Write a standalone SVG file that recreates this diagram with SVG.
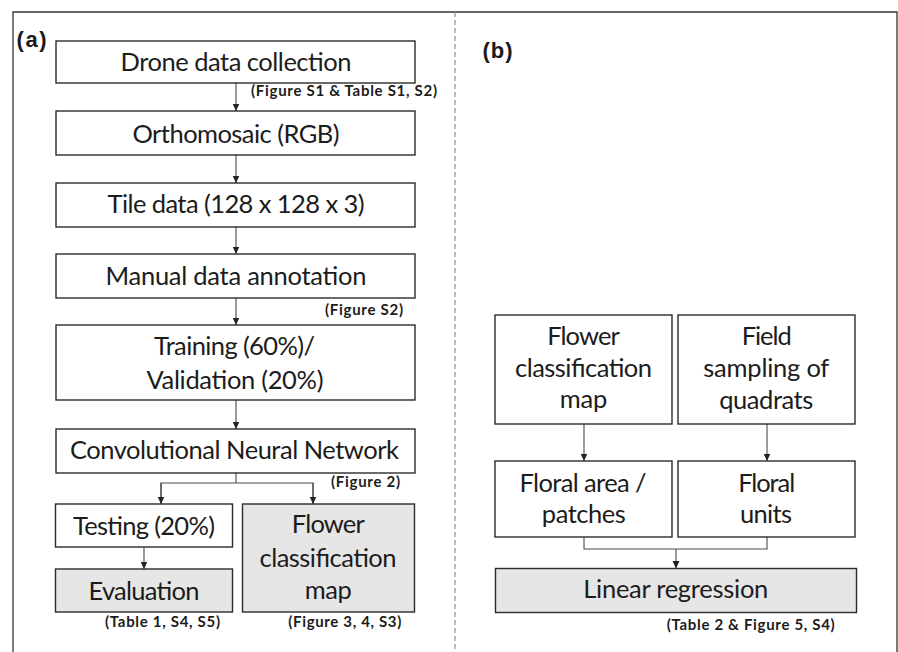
<svg xmlns="http://www.w3.org/2000/svg" width="898" height="652" viewBox="0 0 898 652">
  <style>
    .box { fill: #ffffff; stroke: #2b2b2b; stroke-width: 1.4; }
    .box.shaded { fill: #e6e6e6; }
    .lbl { font-family: Lato, "Open Sans", "Liberation Sans", sans-serif; font-size: 25.5px; fill: #1c1c1c; text-anchor: middle; }
    .note { font-family: Lato, "Open Sans", "Liberation Sans", sans-serif; font-size: 15px; font-weight: bold; fill: #1c1c1c; }
    .panel { font-family: "Liberation Sans", Arial, sans-serif; font-size: 22px; font-weight: bold; fill: #1a1a1a; }
    .link { fill: none; stroke: #4a4a4a; stroke-width: 1.1; }
    .frame { fill: none; stroke: #333333; stroke-width: 1.3; }
    .divider { fill: none; stroke: #8a8a8a; stroke-width: 1.2; stroke-dasharray: 5 3; }
  </style>
  <defs>
    <marker id="arrow" markerUnits="userSpaceOnUse" markerWidth="8" markerHeight="9" refX="7.5" refY="3.5" orient="auto">
      <path d="M0,0 L7.5,3.5 L0,7 Z" fill="#222222"/>
    </marker>
  </defs>

  <!-- outer frame and panel divider -->
  <path class="frame" d="M13,652 V12 H897 V652"/>
  <line class="divider" x1="455" y1="12" x2="455" y2="652"/>

  <text class="panel" x="16.5" y="47" textLength="30">(a)</text>
  <text class="panel" x="482.5" y="58" textLength="30">(b)</text>

  <!-- connectors -->
  <g id="connectors">
    <line class="link" x1="236" y1="83" x2="236" y2="111" marker-end="url(#arrow)"/>
    <line class="link" x1="236" y1="155" x2="236" y2="183" marker-end="url(#arrow)"/>
    <line class="link" x1="236" y1="227" x2="236" y2="254" marker-end="url(#arrow)"/>
    <line class="link" x1="236" y1="298" x2="236" y2="325" marker-end="url(#arrow)"/>
    <line class="link" x1="236" y1="400" x2="236" y2="429" marker-end="url(#arrow)"/>
    <polyline class="link" points="236,473 236,483"/>
    <polyline class="link" points="161,504 161,483 313,483 313,504"/>
    <line class="link" x1="161" y1="483" x2="161" y2="504" marker-end="url(#arrow)"/>
    <line class="link" x1="313" y1="483" x2="313" y2="504" marker-end="url(#arrow)"/>
    <line class="link" x1="144" y1="547" x2="144" y2="569" marker-end="url(#arrow)"/>

    <line class="link" x1="584" y1="424" x2="584" y2="461" marker-end="url(#arrow)"/>
    <line class="link" x1="767" y1="424" x2="767" y2="461" marker-end="url(#arrow)"/>
    <polyline class="link" points="584,537 584,549 767,549 767,537"/>
    <line class="link" x1="676" y1="549" x2="676" y2="568.5" marker-end="url(#arrow)"/>
  </g>

  <!-- panel (a): CNN workflow -->
  <g id="drone-data">
    <rect class="box" x="56" y="41" width="359" height="42"/>
    <text class="lbl" x="236" y="71" textLength="231">Drone data collection</text>
    <text class="note" x="251" y="96" textLength="186">(Figure S1 &amp; Table S1, S2)</text>
  </g>
  <g id="orthomosaic">
    <rect class="box" x="56" y="111" width="359" height="44"/>
    <text class="lbl" x="236" y="142.5" textLength="207">Orthomosaic (RGB)</text>
  </g>
  <g id="tile-data">
    <rect class="box" x="56" y="183" width="359" height="44"/>
    <text class="lbl" x="236" y="213" textLength="257">Tile data (128 x 128 x 3)</text>
  </g>
  <g id="annotation">
    <rect class="box" x="56" y="254" width="359" height="44"/>
    <text class="lbl" x="236" y="285" textLength="261">Manual data annotation</text>
    <text class="note" x="325" y="314.5" textLength="78">(Figure S2)</text>
  </g>
  <g id="training">
    <rect class="box" x="56" y="325" width="359" height="75"/>
    <text class="lbl" x="234.5" y="355" textLength="161">Training (60%)/</text>
    <text class="lbl" x="235" y="388.5" textLength="177">Validation (20%)</text>
  </g>
  <g id="cnn">
    <rect class="box" x="56" y="429" width="359" height="44"/>
    <text class="lbl" x="234.5" y="459" textLength="329">Convolutional Neural Network</text>
    <text class="note" x="331" y="486.5" textLength="69">(Figure 2)</text>
  </g>
  <g id="testing">
    <rect class="box" x="55.5" y="504" width="177" height="43"/>
    <text class="lbl" x="144" y="535" textLength="142">Testing (20%)</text>
  </g>
  <g id="evaluation">
    <rect class="box shaded" x="55.5" y="569" width="177" height="43"/>
    <text class="lbl" x="144" y="599.5" textLength="111">Evaluation</text>
    <text class="note" x="105" y="627" textLength="115">(Table 1, S4, S5)</text>
  </g>
  <g id="classification-map-a">
    <rect class="box shaded" x="242.5" y="504" width="172" height="108"/>
    <text class="lbl" x="328.3" y="533.3" textLength="73">Flower</text>
    <text class="lbl" x="328" y="566.7" textLength="137">classification</text>
    <text class="lbl" x="328.3" y="599" textLength="47">map</text>
    <text class="note" x="288.3" y="627" textLength="113">(Figure 3, 4, S3)</text>
  </g>

  <!-- panel (b): validation against field data -->
  <g id="classification-map-b">
    <rect class="box" x="495" y="315" width="177" height="109"/>
    <text class="lbl" x="583.5" y="345" textLength="72.7">Flower</text>
    <text class="lbl" x="583.5" y="377" textLength="137">classification</text>
    <text class="lbl" x="583.5" y="408" textLength="47.7">map</text>
  </g>
  <g id="field-sampling">
    <rect class="box" x="678" y="315" width="177" height="109"/>
    <text class="lbl" x="766.7" y="345" textLength="50">Field</text>
    <text class="lbl" x="766.3" y="377" textLength="126">sampling of</text>
    <text class="lbl" x="766.3" y="408.5" textLength="94">quadrats</text>
  </g>
  <g id="floral-area">
    <rect class="box" x="495" y="461" width="177" height="76"/>
    <text class="lbl" x="583" y="491.5" textLength="127">Floral area /</text>
    <text class="lbl" x="583.8" y="523" textLength="84">patches</text>
  </g>
  <g id="floral-units">
    <rect class="box" x="678" y="461" width="177" height="76"/>
    <text class="lbl" x="766.7" y="491.5" textLength="57">Floral</text>
    <text class="lbl" x="766" y="523" textLength="52">units</text>
  </g>
  <g id="regression">
    <rect class="box shaded" x="495.5" y="568.5" width="361" height="44"/>
    <text class="lbl" x="675.8" y="598" textLength="185">Linear regression</text>
    <text class="note" x="666.7" y="629.5" textLength="168">(Table 2 &amp; Figure 5, S4)</text>
  </g>
</svg>
